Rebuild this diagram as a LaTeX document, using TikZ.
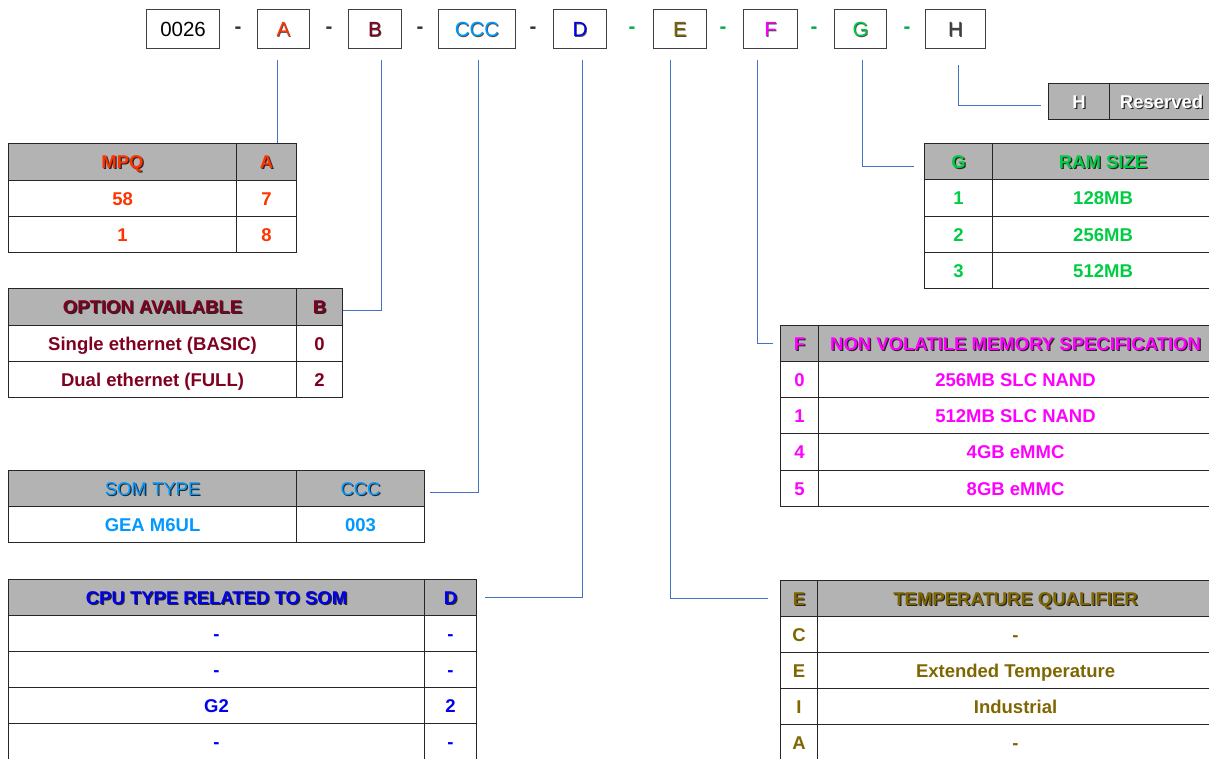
\documentclass[tikz,border=0pt]{standalone}
\usepackage{fontspec}
\setmainfont{Liberation Sans}
\usetikzlibrary{calc}
\definecolor{colA}{HTML}{FF3300}
\definecolor{colB}{HTML}{800020}
\definecolor{colC}{HTML}{0099FF}
\definecolor{colD}{HTML}{0000EE}
\definecolor{colE}{HTML}{806600}
\definecolor{colF}{HTML}{FF00FF}
\definecolor{colG}{HTML}{00CC44}
\definecolor{colH}{HTML}{404040}
\definecolor{dashG}{HTML}{00AA55}
\definecolor{hdrgray}{HTML}{B3B3B3}
\definecolor{lineblue}{HTML}{4472C4}
\newcommand{\shd}[2]{\rlap{\hspace{1.2pt}\raisebox{-1.2pt}{\color{black!85}#2}}{\color{#1}#2}}
\newcommand{\shs}[2]{\rlap{\hspace{0.7pt}\raisebox{-0.7pt}{\color{black!70}#2}}{\color{#1}#2}}
\tikzset{
  cell/.style={draw=black!85, line width=1.1pt, anchor=north west, inner sep=0pt,
    text height=13.3pt, text depth=0pt,
    font=\fontsize{18.5}{20}\selectfont\bfseries},
  hdr/.style={cell, fill=hdrgray},
  topbox/.style={draw=black!75, line width=1.1pt, anchor=north west, inner sep=0pt,
    minimum height=39pt, text height=14.7pt, text depth=0pt, font=\fontsize{20.5}{22}\selectfont},
  dashtxt/.style={inner sep=0pt, font=\fontsize{20.5}{22}\selectfont\bfseries},
  conn/.style={draw=lineblue, line width=0.9pt},
}
\begin{document}
\begin{tikzpicture}[x=1pt,y=-1pt]
\useasboundingbox (0,0) rectangle (1209,758);
\clip (0,0) rectangle (1209,758);
\fill[white] (0,0) rectangle (1209,758);

% ---- top code row ----
\node[topbox, minimum width=73pt] (b0) at (146,9) {0026};
\node[topbox, minimum width=52pt] (bA) at (257,9) {\shs{colA}{A}};
\node[topbox, minimum width=53pt] (bB) at (348,9) {\shs{colB}{B}};
\node[topbox, minimum width=77pt] (bC) at (438,9) {\shs{colC}{CCC}};
\node[topbox, minimum width=53pt] (bD) at (553,9) {\shs{colD}{D}};
\node[topbox, minimum width=53pt] (bE) at (653,9) {\shs{colE}{E}};
\node[topbox, minimum width=54pt] (bF) at (743,9) {\shs{colF}{F}};
\node[topbox, minimum width=52pt] (bG) at (834,9) {\shs{colG}{G}};
\node[topbox, minimum width=60pt] (bH) at (925,9) {\shs{colH}{H}};
\node[dashtxt, text=black!80] (d1) at (238,30) {-};
\node[dashtxt, text=black!80] (d2) at (329,30) {-};
\node[dashtxt, text=black!80] (d3) at (420,30) {-};
\node[dashtxt, text=black!80] (d4) at (533,30) {-};
\node[dashtxt, text=dashG] (d5) at (632,30) {-};
\node[dashtxt, text=dashG] (d6) at (723,30) {-};
\node[dashtxt, text=dashG] (d7) at (814,30) {-};
\node[dashtxt, text=dashG] (d8) at (907,30) {-};

% ---- A : MPQ ----
\node[hdr, minimum width=228pt, minimum height=37pt] (tA0) at (8,143) {\shd{colA}{MPQ}};
\node[hdr, minimum width=60pt, minimum height=37pt] (tA1) at (236,143) {\shd{colA}{A}};
\node[cell, text=colA, minimum width=228pt, minimum height=36pt] (tA2) at (8,180) {58};
\node[cell, text=colA, minimum width=60pt, minimum height=36pt] (tA3) at (236,180) {7};
\node[cell, text=colA, minimum width=228pt, minimum height=36pt] (tA4) at (8,216) {1};
\node[cell, text=colA, minimum width=60pt, minimum height=36pt] (tA5) at (236,216) {8};

% ---- B : option ----
\node[hdr, minimum width=288pt, minimum height=37pt] (tB0) at (8,288) {\shd{colB}{OPTION AVAILABLE}};
\node[hdr, minimum width=46pt, minimum height=37pt] (tB1) at (296,288) {\shd{colB}{B}};
\node[cell, text=colB, minimum width=288pt, minimum height=36pt] (tB2) at (8,325) {Single ethernet (BASIC)};
\node[cell, text=colB, minimum width=46pt, minimum height=36pt] (tB3) at (296,325) {0};
\node[cell, text=colB, minimum width=288pt, minimum height=36pt] (tB4) at (8,361) {Dual ethernet (FULL)};
\node[cell, text=colB, minimum width=46pt, minimum height=36pt] (tB5) at (296,361) {2};

% ---- CCC : SOM type ----
\node[hdr, minimum width=288pt, minimum height=36pt, font=\fontsize{18.5}{20}\selectfont\mdseries] (tC0) at (8,470) {\shd{colC}{SOM TYPE}};
\node[hdr, minimum width=128pt, minimum height=36pt, font=\fontsize{18.5}{20}\selectfont\mdseries] (tC1) at (296,470) {\shd{colC}{CCC}};
\node[cell, text=colC, minimum width=288pt, minimum height=36pt] (tC2) at (8,506) {GEA M6UL};
\node[cell, text=colC, minimum width=128pt, minimum height=36pt] (tC3) at (296,506) {003};

% ---- D : CPU ----
\node[hdr, minimum width=416pt, minimum height=36pt] (tD0) at (8,579) {\shd{colD}{CPU TYPE RELATED TO SOM}};
\node[hdr, minimum width=52pt, minimum height=36pt] (tD1) at (424,579) {\shd{colD}{D}};
\node[cell, text=colD, minimum width=416pt, minimum height=36pt] (tD2) at (8,615) {-};
\node[cell, text=colD, minimum width=52pt, minimum height=36pt] (tD3) at (424,615) {-};
\node[cell, text=colD, minimum width=416pt, minimum height=36pt] (tD4) at (8,651) {-};
\node[cell, text=colD, minimum width=52pt, minimum height=36pt] (tD5) at (424,651) {-};
\node[cell, text=colD, minimum width=416pt, minimum height=36pt] (tD6) at (8,687) {G2};
\node[cell, text=colD, minimum width=52pt, minimum height=36pt] (tD7) at (424,687) {2};
\node[cell, text=colD, minimum width=416pt, minimum height=36pt] (tD8) at (8,723) {-};
\node[cell, text=colD, minimum width=52pt, minimum height=36pt] (tD9) at (424,723) {-};

% ---- E : temperature ----
\node[hdr, minimum width=37pt, minimum height=36pt] (tE0) at (780,580) {\shd{colE}{E}};
\node[hdr, minimum width=396pt, minimum height=36pt] (tE1) at (817,580) {\shd{colE}{TEMPERATURE QUALIFIER}};
\node[cell, text=colE, minimum width=37pt, minimum height=36pt] (tE2) at (780,616) {C};
\node[cell, text=colE, minimum width=396pt, minimum height=36pt] (tE3) at (817,616) {-};
\node[cell, text=colE, minimum width=37pt, minimum height=36pt] (tE4) at (780,652) {E};
\node[cell, text=colE, minimum width=396pt, minimum height=36pt] (tE5) at (817,652) {Extended Temperature};
\node[cell, text=colE, minimum width=37pt, minimum height=36pt] (tE6) at (780,688) {I};
\node[cell, text=colE, minimum width=396pt, minimum height=36pt] (tE7) at (817,688) {Industrial};
\node[cell, text=colE, minimum width=37pt, minimum height=36pt] (tE8) at (780,724) {A};
\node[cell, text=colE, minimum width=396pt, minimum height=36pt] (tE9) at (817,724) {-};

% ---- F : memory ----
\node[hdr, minimum width=38pt, minimum height=36pt] (tF0) at (780,325) {\shd{colF}{F}};
\node[hdr, minimum width=394pt, minimum height=36pt] (tF1) at (818,325) {\shd{colF}{NON VOLATILE MEMORY SPECIFICATION}};
\node[cell, text=colF, minimum width=38pt, minimum height=36pt] (tF2) at (780,361) {0};
\node[cell, text=colF, minimum width=394pt, minimum height=36pt] (tF3) at (818,361) {256MB SLC NAND};
\node[cell, text=colF, minimum width=38pt, minimum height=36pt] (tF4) at (780,397) {1};
\node[cell, text=colF, minimum width=394pt, minimum height=36pt] (tF5) at (818,397) {512MB SLC NAND};
\node[cell, text=colF, minimum width=38pt, minimum height=37pt] (tF6) at (780,433) {4};
\node[cell, text=colF, minimum width=394pt, minimum height=37pt] (tF7) at (818,433) {4GB eMMC};
\node[cell, text=colF, minimum width=38pt, minimum height=36pt] (tF8) at (780,470) {5};
\node[cell, text=colF, minimum width=394pt, minimum height=36pt] (tF9) at (818,470) {8GB eMMC};

% ---- G : RAM ----
\node[hdr, minimum width=68pt, minimum height=36pt] (tG0) at (924,143) {\shd{colG}{G}};
\node[hdr, minimum width=221pt, minimum height=36pt] (tG1) at (992,143) {\shd{colG}{RAM SIZE}};
\node[cell, text=colG, minimum width=68pt, minimum height=37pt] (tG2) at (924,179) {1};
\node[cell, text=colG, minimum width=221pt, minimum height=37pt] (tG3) at (992,179) {128MB};
\node[cell, text=colG, minimum width=68pt, minimum height=36pt] (tG4) at (924,216) {2};
\node[cell, text=colG, minimum width=221pt, minimum height=36pt] (tG5) at (992,216) {256MB};
\node[cell, text=colG, minimum width=68pt, minimum height=36pt] (tG6) at (924,252) {3};
\node[cell, text=colG, minimum width=221pt, minimum height=36pt] (tG7) at (992,252) {512MB};

% ---- H : reserved ----
\node[hdr, minimum width=61pt, minimum height=36pt] (tH0) at (1048,83) {\shd{white}{H}};
\node[hdr, minimum width=104pt, minimum height=36pt] (tH1) at (1109,83) {\shd{white}{Reserved}};

% ---- connectors ----
\coordinate (kA) at (277,60);
\coordinate (kB) at (381,60);
\coordinate (kC) at (478,60);
\coordinate (kD) at (582,60);
\coordinate (kE) at (670,60);
\coordinate (kF) at (757,60);
\coordinate (kG) at (862,60);
\coordinate (kH) at (958,65);
\draw[conn] (kA) -- (kA |- tA1.north);
\draw[conn] (kB) |- ([yshift=-3.5pt]tB1.east);
\draw[conn] (kC) |- ([xshift=5pt,yshift=-4pt]tC1.east);
\draw[conn] (kD) |- ([xshift=8pt]tD1.east);
\draw[conn] (kE) |- ([xshift=-12pt]tE0.west);
\draw[conn] (kF) |- ([xshift=-7pt]tF0.west);
\draw[conn] (kG) |- ([xshift=-10pt,yshift=-5pt]tG0.west);
\draw[conn] (kH) |- ([xshift=-7pt,yshift=-4pt]tH0.west);
\end{tikzpicture}
\end{document}
